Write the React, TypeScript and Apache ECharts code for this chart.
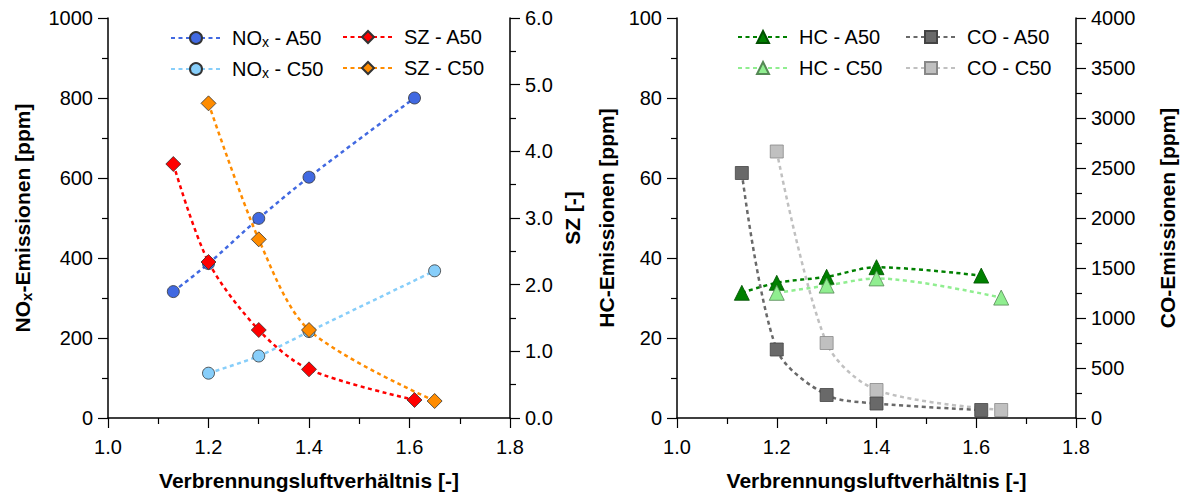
import React, { useEffect, useRef } from "react";
import * as echarts from "echarts";

// ---- data ----
const lambdaA50 = [1.13, 1.2, 1.3, 1.4, 1.61];
const lambdaC50 = [1.2, 1.3, 1.4, 1.65];
const noxA50 = [316, 386, 499, 602, 800];
const noxC50 = [112, 155, 216, 368];
const szA50 = [3.81, 2.34, 1.32, 0.73, 0.27];
const szC50 = [4.72, 2.68, 1.32, 0.255];
const hcA50 = [31.3, 33.8, 35.3, 37.7, 35.6];
const hcC50 = [31.3, 33.1, 34.9, 30.1];
const coA50 = [2450, 685, 230, 145, 80];
const coC50 = [2665, 750, 280, 80];

const xTicks = { min: 1.0, max: 1.8, interval: 0.2 };
const noxTicks = { min: 0, max: 1000, interval: 200 };
const szTicks = { min: 0, max: 6, interval: 1 };
const hcTicks = { min: 0, max: 100, interval: 20 };
const coTicks = { min: 0, max: 4000, interval: 500 };

const seriesNames = [
  "NOx - A50",
  "SZ - A50",
  "NOx - C50",
  "SZ - C50",
  "HC - A50",
  "CO - A50",
  "HC - C50",
  "CO - C50",
];

const FONT = "Arial, 'Liberation Sans', Helvetica, sans-serif";
const TICK_FS = 20;
const NAME_FS = 21;

const zip = (xs: number[], ys: number[]) => xs.map((x, i) => [x, ys[i]]);

function xAxis(gridIndex: number) {
  return {
    type: "value",
    gridIndex,
    ...xTicks,
    axisLine: { show: true, onZero: false, lineStyle: { color: "#000", width: 1.5 } },
    axisTick: { show: true, length: 10, lineStyle: { color: "#000", width: 1.2 } },
    minorTick: { show: true, splitNumber: 2, length: 6, lineStyle: { color: "#000", width: 1.2 } },
    splitLine: { show: false },
    minorSplitLine: { show: false },
    axisLabel: {
      color: "#000",
      fontSize: TICK_FS,
      fontFamily: FONT,
      margin: 19,
      formatter: (v: number) => v.toFixed(1),
    },
    name: "Verbrennungsluftverhältnis [-]",
    nameLocation: "middle",
    nameGap: 52,
    nameTextStyle: { color: "#000", fontSize: NAME_FS, fontWeight: "bold", fontFamily: FONT },
  };
}

function yAxis(
  gridIndex: number,
  position: string,
  ticks: any,
  name: string,
  nameGap: number,
  fmt: (v: number) => string,
  rich?: any
) {
  return {
    type: "value",
    gridIndex,
    position,
    ...ticks,
    axisLine: { show: true, onZero: false, lineStyle: { color: "#000", width: 1.5 } },
    axisTick: { show: true, length: 10, lineStyle: { color: "#000", width: 1.2 } },
    minorTick: { show: true, splitNumber: 2, length: 6, lineStyle: { color: "#000", width: 1.2 } },
    splitLine: { show: false },
    minorSplitLine: { show: false },
    axisLabel: {
      color: "#000",
      fontSize: TICK_FS,
      fontFamily: FONT,
      margin: 15,
      formatter: fmt,
    },
    name,
    nameLocation: "middle",
    nameRotate: 90,
    nameGap,
    nameTextStyle: {
      color: "#000",
      fontSize: NAME_FS,
      fontWeight: "bold",
      fontFamily: FONT,
      rich,
    },
  };
}

const subRichBold = {
  n: { fontSize: NAME_FS, fontWeight: "bold", fontFamily: FONT, color: "#000", lineHeight: 24 },
  s: {
    fontSize: 15,
    fontWeight: "bold",
    fontFamily: FONT,
    color: "#000",
    lineHeight: 16,
    padding: [8, 0, 0, 0],
  },
};

const legendRich = {
  n: { fontSize: 20, fontFamily: FONT, color: "#000", lineHeight: 22 },
  s: { fontSize: 14, fontFamily: FONT, color: "#000", lineHeight: 14, padding: [8, 0, 0, 0] },
};

function lineSeries(
  name: string,
  xs: number[],
  ys: number[],
  xi: number,
  yi: number,
  color: string,
  symbol: string,
  symbolSize: number,
  border: string
) {
  return {
    name,
    type: "line",
    xAxisIndex: xi,
    yAxisIndex: yi,
    data: zip(xs, ys),
    smooth: 0.3,
    symbol,
    symbolSize,
    showAllSymbol: true,
    lineStyle: { color, width: 2.5, type: [4, 3.5] },
    itemStyle: { color, borderColor: border, borderWidth: 0.8 },
    z: 3,
  };
}

const legendPos: Record<string, [number, number]> = {
  "NOx - A50": [170, 27],
  "SZ - A50": [342, 27],
  "NOx - C50": [170, 58],
  "SZ - C50": [342, 58],
  "HC - A50": [737, 27],
  "CO - A50": [905, 27],
  "HC - C50": [737, 58],
  "CO - C50": [905, 58],
};

export default function App() {
  const ref = useRef<HTMLDivElement>(null);
  useEffect(() => {
    if (!ref.current) return;
    const chart = echarts.init(ref.current, undefined, { renderer: "svg" });
    const legends = seriesNames.map((nm) => ({
      data: [nm],
      left: legendPos[nm][0],
      top: legendPos[nm][1],
      padding: 0,
      itemWidth: 50,
      itemHeight: 15,
      selectedMode: false,
      formatter: (name: string) =>
        name.startsWith("NOx")
          ? `{n|NO}{s|x}{n|${name.slice(3)}}`
          : `{n|${name}}`,
      textStyle: { fontSize: 20, fontFamily: FONT, color: "#000", padding: [0, 0, 0, 6], rich: legendRich },
    }));

    const plain = (v: number) => String(v);
    chart.setOption({
      animation: false,
      backgroundColor: "#fff",
      textStyle: { fontFamily: FONT },
      grid: [
        { left: 108, top: 18, width: 402, height: 400 },
        { left: 677, top: 18, width: 399, height: 400 },
      ],
      xAxis: [xAxis(0), xAxis(1)],
      yAxis: [
        yAxis(0, "left", noxTicks, "{n|NO}{s|x}{n|-Emissionen [ppm]}", 74, plain, subRichBold),
        yAxis(0, "right", szTicks, "SZ [-]", 52, (v: number) => v.toFixed(1)),
        yAxis(1, "left", hcTicks, "HC-Emissionen [ppm]", 60, plain),
        yAxis(1, "right", coTicks, "CO-Emissionen [ppm]", 81, plain),
      ],
      legend: legends,
      series: [
        lineSeries("NOx - A50", lambdaA50, noxA50, 0, 0, "#4169E1", "circle", 12, "#333"),
        lineSeries("NOx - C50", lambdaC50, noxC50, 0, 0, "#87CEFA", "circle", 12, "#333"),
        lineSeries("SZ - A50", lambdaA50, szA50, 0, 1, "#FF0000", "diamond", 15, "#333"),
        lineSeries("SZ - C50", lambdaC50, szC50, 0, 1, "#FF8C00", "diamond", 15, "#333"),
        lineSeries("HC - A50", lambdaA50, hcA50, 1, 2, "#008000", "triangle", 15, "#005000"),
        lineSeries("HC - C50", lambdaC50, hcC50, 1, 2, "#90EE90", "triangle", 15, "#558855"),
        lineSeries("CO - A50", lambdaA50, coA50, 1, 3, "#696969", "rect", 13, "#444"),
        lineSeries("CO - C50", lambdaC50, coC50, 1, 3, "#C0C0C0", "rect", 13, "#888"),
      ],
    });
    return () => chart.dispose();
  }, []);
  return (
    <div
      ref={ref}
      style={{ position: "absolute", left: 0, top: 0, width: 1184, height: 497, background: "#fff" }}
    />
  );
}
